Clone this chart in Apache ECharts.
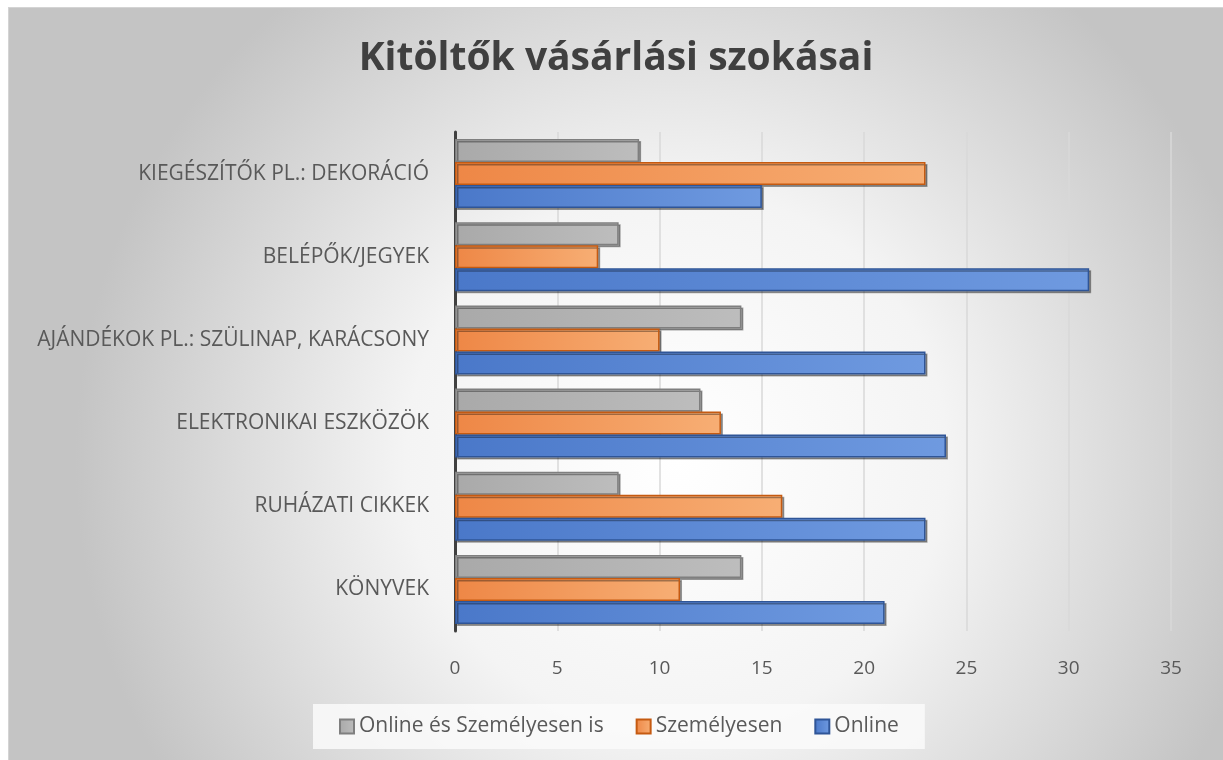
<!DOCTYPE html>
<html lang="hu">
<head>
	<meta charset="UTF-8">
	<title>Kitöltők vásárlási szokásai</title>
	<script src="https://cdn.jsdelivr.net/npm/echarts@6/dist/echarts.min.js"></script>
	<style>
		html,body{margin:0;width:100%;height:100%;background:#fff;overflow:hidden;}
		#chart{position:absolute;left:8px;top:7px;width:1214px;height:752px;border-top:1px solid #d4d4d4;border-left:1px solid #d4d4d4;}
	</style>
</head>
<body>
	<div id="chart"></div>
<script>
	// adatok (alulról felfelé)
	var categories = ['KÖNYVEK', 'RUHÁZATI CIKKEK', 'ELEKTRONIKAI ESZKÖZÖK', 'AJÁNDÉKOK PL.: SZÜLINAP, KARÁCSONY', 'BELÉPŐK/JEGYEK', 'KIEGÉSZÍTŐK PL.: DEKORÁCIÓ'];
	var online = [21, 23, 24, 23, 31, 15];
	var szemelyesen = [11, 16, 13, 10, 7, 23];
	var mindketto = [14, 8, 12, 14, 8, 9];
	var xTicks = [0, 5, 10, 15, 20, 25, 30, 35];

	var font = "'Open Sans', 'Noto Sans', sans-serif";

	function barStyle(c1, c2, border) {
		return {
			color: {
				type: 'linear', x: 0, y: 0, x2: 1, y2: 0,
				colorStops: [{offset: 0, color: c1}, {offset: 1, color: c2}]
			},
			borderColor: border,
			borderWidth: 1.5,
			shadowColor: 'rgba(0,0,0,0.35)',
			shadowOffsetX: 2,
			shadowOffsetY: 2,
			shadowBlur: 0
		};
	}

	var myChart = echarts.init(document.getElementById('chart'));

	var options = {
		backgroundColor: {
			type: 'radial', x: 0.55, y: 0.6, r: 0.8,
			colorStops: [
				{offset: 0, color: '#ffffff'},
				{offset: 0.45, color: '#f4f4f4'},
				{offset: 1, color: '#c4c4c4'}
			]
		},
		title: {
			text: 'Kitöltők vásárlási szokásai',
			left: 'center',
			top: 26,
			textStyle: {fontFamily: font, fontSize: 39, fontWeight: 'bold', color: '#404040'}
		},
		legend: {
			data: ['Online és Személyesen is', 'Személyesen', 'Online'],
			left: 304,
			top: 696,
			padding: [12, 26, 12, 26],
			backgroundColor: 'rgba(250,250,250,0.85)',
			itemWidth: 14,
			itemHeight: 14,
			itemGap: 32,
			icon: 'rect',
			textStyle: {fontFamily: font, fontSize: 21, color: '#595959'}
		},
		grid: {left: 446, right: 52, top: 124, bottom: 129, containLabel: false},
		xAxis: {
			type: 'value',
			min: 0,
			max: 35,
			interval: 5,
			axisLine: {show: false},
			axisTick: {show: false},
			axisLabel: {
				margin: 28,
				fontFamily: font,
				fontSize: 19,
				color: '#595959',
				formatter: function (v) { return xTicks.indexOf(v) >= 0 ? String(v) : ''; }
			},
			splitLine: {lineStyle: {color: '#d9d9d9', width: 1.5}}
		},
		yAxis: {
			type: 'category',
			data: categories,
			axisTick: {show: false},
			axisLine: {show: true, lineStyle: {color: '#404040', width: 3}},
			axisLabel: {margin: 26, fontFamily: font, fontSize: 21, color: '#595959'}
		},
		series: [
			{
				name: 'Online és Személyesen is',
				type: 'bar',
				data: mindketto,
				barWidth: 23,
				barGap: '0%',
				itemStyle: barStyle('#a9a9a9', '#bdbdbd', '#7f7f7f')
			},
			{
				name: 'Személyesen',
				type: 'bar',
				data: szemelyesen,
				barWidth: 23,
				barGap: '0%',
				itemStyle: barStyle('#ee8746', '#f7ae74', '#c55a11')
			},
			{
				name: 'Online',
				type: 'bar',
				data: online,
				barWidth: 23,
				barGap: '0%',
				itemStyle: barStyle('#4a78c9', '#6f9ae0', '#2f5597')
			}
		]
	};
	myChart.setOption(options);
</script>
</body>
</html>
